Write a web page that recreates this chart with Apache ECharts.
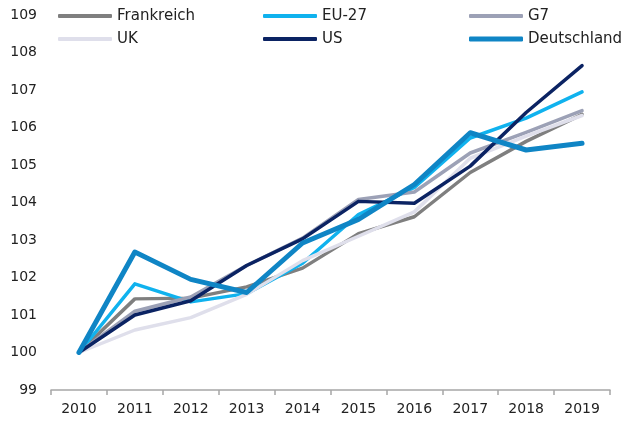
<!DOCTYPE html>
<html>
<head>
<meta charset="utf-8">
<script src="https://cdn.jsdelivr.net/npm/echarts@6/dist/echarts.min.js"></script>
<style>
  html,body{margin:0;padding:0;background:#fff}
  #chart{width:625px;height:422px}
</style>
</head>
<body>
<div id="chart"></div>
<script>
// years on the x axis
var years = ['2010','2011','2012','2013','2014','2015','2016','2017','2018','2019'];

// index values, 2010 = 100
var frankreich  = [100, 101.43, 101.45, 101.75, 102.25, 103.17, 103.62, 104.8, 105.63, 106.35];
var eu27        = [100, 101.83, 101.35, 101.57, 102.38, 103.68, 104.4, 105.72, 106.25, 106.95];
var g7          = [100, 101.1, 101.48, 102.32, 103.05, 104.08, 104.28, 105.32, 105.87, 106.45];
var uk          = [100, 100.6, 100.93, 101.55, 102.45, 103.1, 103.75, 105.18, 105.77, 106.32];
var us          = [100, 101.0, 101.38, 102.32, 103.03, 104.03, 103.98, 104.97, 106.4, 107.65];
var deutschland = [100, 102.68, 101.95, 101.6, 102.92, 103.55, 104.48, 105.86, 105.4, 105.58];

var yTicks = { min: 99, max: 109, step: 1 };

var chart = echarts.init(document.getElementById('chart'), null, {renderer:'canvas'});
var font = 'DejaVu Sans';

function mk(name, data, color, width){
  return {
    name: name, type: 'line', data: data,
    symbol: 'none', smooth: false,
    lineStyle: { color: color, width: width, cap: 'round', join: 'round' },
    itemStyle: { color: color },
    emphasis: { disabled: true }
  };
}

var cols = {
  'Frankreich': '#7f7f7f',
  'EU-27': '#10b2ee',
  'G7': '#9ca1b6',
  'UK': '#dfdfeb',
  'US': '#0b2363',
  'Deutschland': '#0f85c5'
};

// one legend box per item so the columns line up
var legPos = [
  ['Frankreich', 58, 8, 4],
  ['EU-27', 263, 8, 4],
  ['G7', 469, 8, 4],
  ['UK', 58, 31, 4],
  ['US', 263, 31, 4],
  ['Deutschland', 469, 31, 5]
];
var legends = legPos.map(function(l){
  return {
    data: [l[0]], left: l[1], top: l[2],
    icon: 'roundRect', itemWidth: 54, itemHeight: l[3], itemGap: 0,
    textStyle: { fontFamily: font, fontSize: 15, color: '#222', lineHeight: 16, padding: [0,0,0,0] },
    padding: 0, selectedMode: false
  };
});

chart.setOption({
  animation: false,
  backgroundColor: '#fff',
  legend: legends,
  grid: { left: 51, right: 15, top: 15, bottom: 32 },
  xAxis: {
    type: 'category', data: years, boundaryGap: true,
    axisLine: { lineStyle: { color: '#a6a6a6', width: 1.5 } },
    axisTick: { show: true, length: 5, lineStyle: { color: '#a6a6a6', width: 1.5 } },
    axisLabel: { fontFamily: font, fontSize: 14, color: '#222', margin: 12 },
    splitLine: { show: false }
  },
  yAxis: {
    type: 'value', min: yTicks.min, max: yTicks.max, interval: yTicks.step,
    axisLine: { show: false }, axisTick: { show: false },
    axisLabel: { fontFamily: font, fontSize: 14, color: '#222', margin: 14 },
    splitLine: { show: false }
  },
  series: [
    mk('Frankreich', frankreich, cols['Frankreich'], 3.5),
    mk('EU-27', eu27, cols['EU-27'], 3.5),
    mk('G7', g7, cols['G7'], 3.5),
    mk('UK', uk, cols['UK'], 3.5),
    mk('US', us, cols['US'], 3.5),
    mk('Deutschland', deutschland, cols['Deutschland'], 5)
  ]
});
</script>
</body>
</html>
